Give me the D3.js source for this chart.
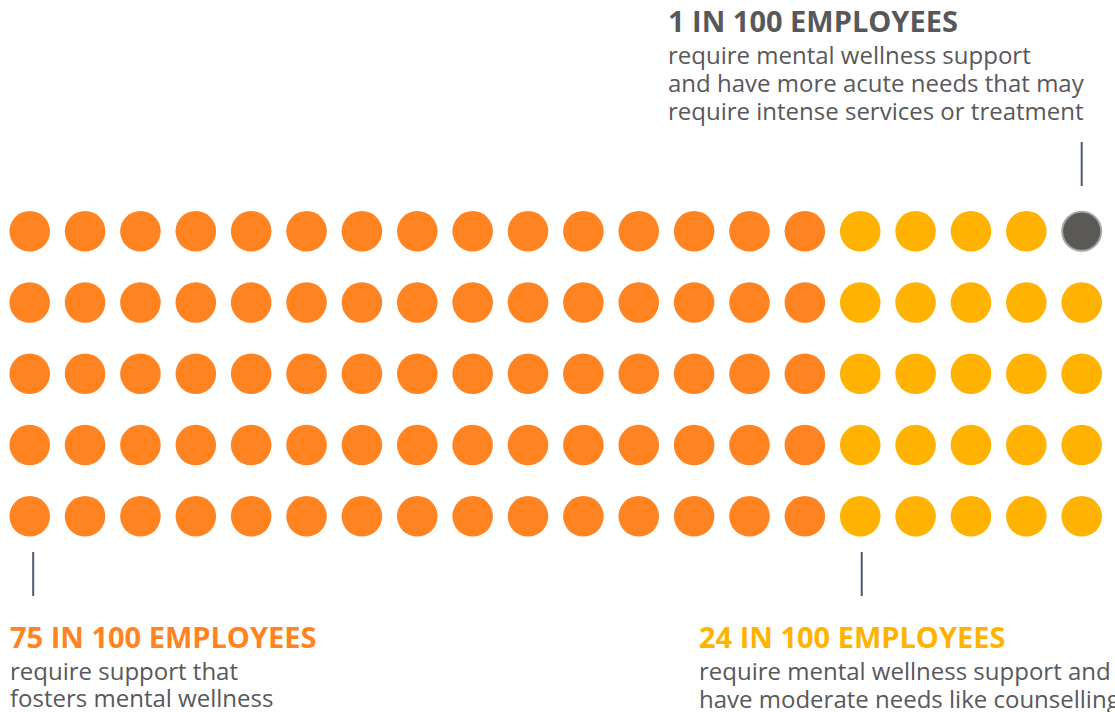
<!DOCTYPE html>
<html>
<head>
<meta charset="utf-8">
<script src="https://cdn.jsdelivr.net/npm/d3@7"></script>
<style>
  body { margin: 0; background: #fff; }
  text { font-family: "Open Sans", sans-serif; }
</style>
</head>
<body>
<svg id="viz"></svg>
<script>
let width = 1115;
let height = 712;

// data
const groups = ["supportive", "moderate", "acute"];
const counts = [75, 24, 1];
const headings = ["75 IN 100 EMPLOYEES", "24 IN 100 EMPLOYEES", "1 IN 100 EMPLOYEES"];
const bodies = [
    ["require support that", "fosters mental wellness"],
    ["require mental wellness support and", "have moderate needs like counselling"],
    ["require mental wellness support", "and have more acute needs that may", "require intense services or treatment"]
];
const nCols = 20;
const nRows = 5;

const colors = d3.scaleOrdinal()
    .domain(groups)
    .range(["#FF8321", "#FFB300", "#5B5956"]);
const headColors = d3.scaleOrdinal()
    .domain(groups)
    .range(["#FF8321", "#FFB300", "#58585A"]);

let svg = d3.select("#viz")
    .attr("width", width)
    .attr("height", height);

let x = d3.scaleLinear().domain([0, nCols - 1]).range([29.7, 1081.7]);
let y = d3.scaleLinear().domain([0, nRows - 1]).range([516.3, 231.3]);

// one dot per employee, filled column by column from the bottom
let dots = [];
groups.forEach(function(g, gi) {
    for (let k = 0; k < counts[gi]; k++) {
        dots.push({group: g});
    }
});
dots.forEach(function(d, i) {
    d.col = Math.floor(i / nRows);
    d.row = i % nRows;
});

svg.selectAll("circle.dot")
    .data(dots)
    .enter().append("circle")
    .attr("class", "dot")
    .attr("cx", (d) => x(d.col))
    .attr("cy", (d) => y(d.row))
    .attr("r", (d) => d.group == "acute" ? 19.5 : 20.3)
    .style("fill", (d) => colors(d.group))
    .style("stroke", (d) => d.group == "acute" ? "#A3A3A3" : "none")
    .style("stroke-width", 2);

// annotations
let notes = [
    {group: "supportive", x: 10, y: 647.5, lineX: x(0) + 3.5, lineY: [552, 596]},
    {group: "moderate", x: 699, y: 648, lineX: x(15) + 1.5, lineY: [552, 596]},
    {group: "acute", x: 668, y: 32, lineX: x(19), lineY: [142, 186]}
];

notes.forEach(function(n) {
    let gi = groups.indexOf(n.group);
    svg.append("line")
        .attr("x1", n.lineX).attr("x2", n.lineX)
        .attr("y1", n.lineY[0]).attr("y2", n.lineY[1])
        .style("stroke", "#4B5A70")
        .style("stroke-width", 2);

    svg.append("text")
        .attr("x", n.x)
        .attr("y", n.y)
        .style("font-size", "29px")
        .style("font-weight", 700)
        .style("fill", headColors(n.group))
        .text(headings[gi]);

    svg.selectAll(null)
        .data(bodies[gi])
        .enter().append("text")
        .attr("x", n.x)
        .attr("y", (d, i) => n.y + 32 + i * 27.8)
        .style("font-size", "24px")
        .style("fill", "#58585A")
        .text((d) => d);
});
</script>
</body>
</html>
